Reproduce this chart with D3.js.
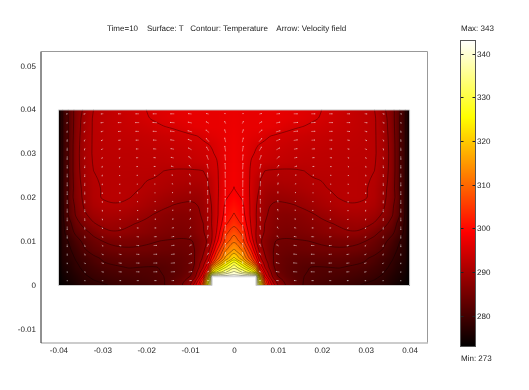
<!DOCTYPE html>
<html>
<head>
<meta charset="utf-8">
<script src="https://cdn.jsdelivr.net/npm/d3@7"></script>
<style>
  html, body { margin: 0; background: #fff; }
  #chart { position: relative; width: 529px; height: 390px; overflow: hidden; }
  #chart canvas, #chart svg { position: absolute; left: 0; top: 0; }
  text { font-family: "Liberation Sans", Arial, sans-serif; font-size: 8px; fill: #222; text-rendering: geometricPrecision; }
</style>
</head>
<body>
<div id="chart"></div>
<script>
// Tick labels
const xTicks = [-0.04, -0.03, -0.02, -0.01, 0, 0.01, 0.02, 0.03, 0.04];
const yTicks = [-0.01, 0, 0.01, 0.02, 0.03, 0.04, 0.05];
const barTicks = [280, 290, 300, 310, 320, 330, 340];

// Grid of the temperature readings, left half of the (symmetric) box, wall to centre
const gridX = [-0.04, -0.039, -0.038, -0.037, -0.036, -0.034, -0.032, -0.03, -0.028, -0.026, -0.024, -0.022, -0.02,
  -0.018, -0.016, -0.014, -0.012, -0.01, -0.009, -0.008, -0.007, -0.006, -0.005, -0.004, -0.002, 0];
const gridY = [0.04, 0.038, 0.036, 0.034, 0.032, 0.03, 0.028, 0.026, 0.024, 0.022, 0.02, 0.018, 0.016, 0.014, 0.012,
  0.01, 0.008, 0.006, 0.005, 0.004, 0.003, 0.002, 0.001, 0];
const tempRows = [
  [273,278.4,281,283.8,286,289,291.7,292.3,292.9,293.5,294,294.5,295,295.6,296,296.4,296.6,296.8,296.9,296.9,296.9,296.9,296.9,296.9,297,297.2],
  [273,278.4,281,283.8,286.3,289.8,292,292.6,293,293.4,293.8,294.3,294.8,295.3,295.8,296.2,296.5,296.8,296.9,296.9,296.9,296.9,296.9,296.9,297,297.3],
  [273,278.4,281,283.8,286.5,290,292,292.5,292.9,293.2,293.5,293.8,294.1,294.5,294.9,295.2,295.6,296.2,296.5,296.7,296.8,296.85,296.9,296.9,297,297.4],
  [273,278.4,281,283.9,286.7,290.2,292,292.4,292.7,292.9,293,293.2,293.4,293.6,293.9,294.1,294.4,294.7,294.9,295.1,295.5,295.9,296.2,296.4,297,297.6],
  [273,278.4,281,284,286.9,290.3,292,292.3,292.5,292.6,292.7,292.8,293,293.1,293.3,293.5,293.7,294,294.2,294.4,294.6,294.9,295.2,295.7,297,297.7],
  [273,278.4,281,284,287,290.4,292,292.2,292.3,292.4,292.4,292.5,292.6,292.7,292.8,293,293.2,293.5,293.7,293.9,294.1,294.4,294.8,295.3,297,297.8],
  [273,278.4,281,284,287,290.3,291.9,292.1,292.2,292.2,292.3,292.3,292.4,292.4,292.4,292.6,292.8,293,293.2,293.4,293.7,294,294.4,294.8,297,297.9],
  [273,278.4,281,284,287,290,291.7,291.9,292,292.1,292.1,292.1,292.1,292,291.7,291.5,291.4,291.4,291.45,291.5,291.7,293,294,294.5,297.1,298],
  [273,278.4,281,283.9,286.8,289.8,291.5,291.9,292,292,291.95,291.85,291.75,291.6,291.3,291.1,291,290.9,290.9,291,291.2,291.7,293,294.4,297.2,298.1],
  [273,278.3,281,283.8,286.6,289.4,291.3,291.8,292,292,291.9,291.8,291.5,291.2,290.8,290.4,290.1,289.9,289.9,290,290.4,291.4,292.5,294.3,297.3,298.35],
  [273,278.2,281.3,284.3,286.4,289.2,291.2,291.8,292,292,291.8,291.4,290.9,290.4,289.8,289.3,289,288.8,288.8,289,289.5,290.8,292.2,294.2,297.9,299.3],
  [273,278.1,281.2,283.5,285.8,288.8,290.6,291.3,291.5,291.5,291.2,290.7,290.1,289.4,288.8,288.2,287.9,287.8,288,288.4,289,290.3,291.9,294.1,298.8,300.6],
  [273,278,281.2,283.3,285.3,287.9,289.4,290.2,290.4,290.3,290,289.4,288.8,288.1,287.4,287,286.8,287,287.4,288,288.8,290.2,291.8,294,299.5,302],
  [273,277.7,279.9,281.8,283.9,286.2,288.1,289,289.2,289,288.6,288.2,287.7,287.2,286.8,286.5,286.3,286.5,287,287.6,288.3,290,291.9,294.3,301,304],
  [273,277.4,279.4,280.9,282.4,284.2,285.8,287.4,288.1,288.1,287.8,287.4,287,286.5,286.1,285.8,285.7,286,286.6,287.3,288,289.8,291.7,295,304,307],
  [273,276.9,278.1,279.2,280.5,282.6,284,285,285.5,285.7,285.7,285.5,285.3,285.1,284.9,284.8,284.7,284.8,285.2,286.2,287.3,288.7,292,297,306,311],
  [273,276.6,277.6,278.4,279.3,281.5,282.8,283.7,284.3,284.6,284.7,284.7,284.6,284.4,284.2,284.1,284.1,284.4,285,286,287.7,290,295,301,311,315.5],
  [273,276.2,277,277.7,278.5,279.8,281,281.9,282.4,282.8,283,283,283,282.9,282.9,283,283.3,284,285,286.7,289,292.5,300,306,316,323],
  [273,275.8,276.6,277.2,278.1,279.3,280.5,281.5,281.9,282.2,282.4,282.4,282.3,282.3,282.4,282.7,283.2,284,285,287.5,290.5,295,304,312,322,330],
  [273,275.4,276.2,276.8,277.8,278.9,279.8,280.7,281.2,281.5,281.8,281.7,281.6,281.6,281.9,282.4,283,284,285.3,288.2,292,298,314,320,328,334],
  [273,275,275.8,276.4,277.2,278.5,279.3,280,280.5,280.9,281.1,281.2,281.3,281.5,281.8,282.2,283,284.2,286,290,295,304,322,328,334,339],
  [273,274.6,275.4,276,276.6,278,278.8,279.4,279.9,280.3,280.6,280.8,281,281.3,281.7,282.3,283.2,285,287,292,298,316,343,343,343,343],
  [273,274.2,275,275.6,276.2,277.5,278.2,278.7,279.2,279.7,280,280.3,280.6,281,281.6,282.6,284,286.5,290,296,304,322,343,343,343,343],
  [273,273.6,274.2,274.8,275.6,277,277.5,278,278.5,279,279.3,279.7,280,280.6,281.5,283,284.5,288.3,293,298.3,308,326,343,343,343,343]
];

// Contour levels of the temperature
const levels = [278.3, 281.7, 285, 288.3, 291.7, 295, 298.3, 301.7, 305, 308.3, 311.7, 315, 318.3, 321.7, 325, 328.3, 331.7, 335, 338.3, 341.7];

// Velocity arrows, left half. Rows top to bottom, columns wall to centre
const arrowX = [-0.038, -0.034, -0.03, -0.026, -0.022, -0.018, -0.014, -0.01, -0.006, -0.002];
const arrowY = [0.039, 0.037, 0.035, 0.033, 0.031, 0.029, 0.027, 0.025, 0.023, 0.021, 0.019, 0.017, 0.015, 0.013, 0.011, 0.009, 0.007, 0.005, 0.003, 0.001];
const arrowU = [
  [-1,-1.5,-2,-2.5,-3,-3.5,-3.5,-3,-2,-0.5],
  [-0.5,-1.5,-2.5,-3,-3.5,-4,-4,-3.5,-2.5,-1],
  [-0.3,-1,-2,-2.5,-3,-3.5,-4,-4,-3,-1],
  [-0.2,-0.8,-1.5,-2,-2.5,-3,-3.5,-3.5,-2.5,-1],
  [-0.1,-0.5,-1,-1.5,-2,-2.5,-3,-3,-2,-0.8],
  [-0.1,-0.4,-0.8,-1,-1.5,-2,-2.5,-2.5,-1.5,-0.5],
  [0,-0.2,-0.5,-0.7,-1,-1.5,-2,-1.5,-1,-0.4],
  [0,-0.1,-0.3,-0.4,-0.6,-0.8,-1,-1,-0.5,-0.2],
  [0,-0.1,-0.1,-0.2,-0.2,-0.3,-0.4,-0.4,-0.2,-0.1],
  [0,0,0,0,0,0,0,0,0,0],
  [0,0,0.1,0.1,0.2,0.3,0.3,0.2,0.1,0],
  [0,0.1,0.2,0.3,0.5,0.6,0.6,0.4,0.2,0.1],
  [0,0.1,0.3,0.5,0.8,1,1,0.7,0.3,0.1],
  [0,0.2,0.5,0.8,1.2,1.5,1.5,1,0.5,0.2],
  [0,0.3,0.8,1.2,1.8,2.2,2.2,1.5,0.7,0.2],
  [0,0.5,1,1.8,2.3,2.8,2.8,2,1,0.3],
  [0,0.6,1.5,2.2,2.8,3.2,3.2,2.5,1.2,0.3],
  [0.1,0.8,1.8,2.5,3,3.5,3.5,3,1.5,0.4],
  [0.1,0.8,1.8,2.5,3,3.5,3.5,3,1.5,0.3],
  [0.1,0.5,1,1.5,1.5,2,2,2,1,0.1]
];
const arrowV = [
  [-0.3,-0.5,-0.2,0,0,0,0,0.3,0.5,0.5],
  [-1,-0.8,-0.3,0,0,0.2,0.3,0.8,1.5,2],
  [-1.5,-1.2,-0.6,-0.2,0.1,0.2,0.5,1.2,2.5,3],
  [-2,-1.5,-0.8,-0.3,0,0.2,0.6,1.5,3,4],
  [-2.5,-1.8,-1,-0.4,0,0.2,0.6,1.7,3.5,5],
  [-3,-2,-1,-0.5,-0.1,0.2,0.6,2,4,5.5],
  [-3,-2.2,-1.2,-0.5,-0.2,0.1,0.6,2,4.2,6],
  [-3.2,-2.3,-1.2,-0.5,-0.2,0.1,0.5,2,4.5,6],
  [-3.5,-2.5,-1.2,-0.5,-0.2,0,0.5,2,4.5,6.5],
  [-3.5,-2.5,-1.2,-0.6,-0.2,0,0.4,1.8,4.5,6.5],
  [-3.5,-2.5,-1.2,-0.6,-0.2,0,0.4,1.8,4.5,6.5],
  [-3.5,-2.5,-1.2,-0.6,-0.2,0,0.4,1.8,4.5,6.5],
  [-3.2,-2.3,-1.2,-0.6,-0.2,0,0.4,1.6,4,6],
  [-3,-2.2,-1.1,-0.6,-0.2,0,0.4,1.5,3.5,5.5],
  [-2.7,-2,-1,-0.5,-0.2,0.1,0.4,1.3,3,5],
  [-2.2,-1.7,-0.9,-0.5,-0.2,0.1,0.4,1.2,2.5,4],
  [-1.7,-1.4,-0.8,-0.4,-0.2,0.1,0.4,1,2,3],
  [-1.2,-1,-0.6,-0.3,-0.1,0.1,0.3,0.8,1.5,2],
  [-0.7,-0.6,-0.4,-0.2,-0.1,0.1,0.2,0.5,1,1],
  [-0.2,-0.2,-0.1,0,0,0,0.1,0.2,0.3,0]
];

// Box outline with the heater notch in the floor
const boxX = [-0.04, -0.04, 0.04, 0.04, 0.005, 0.005, -0.005, -0.005];
const boxY = [0, 0.04, 0.04, 0, 0, 0.002, 0.002, 0];

// "hot" colormap stops
const hotTemps = [273, 299.25, 325.5, 343];
const hotColors = ["#000000", "#ff0000", "#ffff00", "#ffffff"];

const margin = { top: 51.5, right: 101.5, bottom: 47.5, left: 40.5 };
const width = 529, height = 390;

const x = d3.scaleLinear().domain([-0.04408, 0.04408]).range([margin.left, width - margin.right]);
const y = d3.scaleLinear().domain([-0.0131, 0.0532]).range([height - margin.bottom, margin.top]);
const color = d3.scaleLinear().domain(hotTemps).range(hotColors);

// Whole grid: the right half mirrors the left
const fullX = gridX.concat(gridX.slice(0, -1).reverse().map(d => -d));
const fullRows = tempRows.map(r => r.concat(r.slice(0, -1).reverse()));
const nx = fullX.length, ny = gridY.length;

// Grid index <-> data coordinates (the grid is not uniform)
const xAtIndex = d3.scaleLinear().domain(d3.range(nx)).range(fullX);
const yAtIndex = d3.scaleLinear().domain(d3.range(ny)).range(gridY);
const indexAtX = d3.scaleLinear().domain(fullX).range(d3.range(nx)).clamp(true);
const indexAtY = d3.scaleLinear().domain(gridY.slice().reverse()).range(d3.range(ny).reverse()).clamp(true);

// Surface plot on a canvas below the svg
const chart = d3.select("#chart");
const canvas = chart.append("canvas").attr("width", width).attr("height", height);
const ctx = canvas.node().getContext("2d");
const image = ctx.createImageData(width, height);
for (let py = Math.ceil(y(0.04)); py < y(0); py++) {
  for (let px = Math.ceil(x(-0.04)); px < x(0.04); px++) {
    const fx = indexAtX(x.invert(px + 0.5)), fy = indexAtY(y.invert(py + 0.5));
    const i = Math.min(Math.floor(fx), nx - 2), j = Math.min(Math.floor(fy), ny - 2);
    const a = fx - i, b = fy - j;
    const t = (1 - a) * (1 - b) * fullRows[j][i] + a * (1 - b) * fullRows[j][i + 1]
      + (1 - a) * b * fullRows[j + 1][i] + a * b * fullRows[j + 1][i + 1];
    const c = d3.rgb(color(t));
    const k = (py * width + px) * 4;
    image.data[k] = c.r; image.data[k + 1] = c.g; image.data[k + 2] = c.b; image.data[k + 3] = 255;
  }
}
ctx.putImageData(image, 0, 0);

const svg = chart.append("svg").attr("width", width).attr("height", height);

const boxPath = d3.line().x(d => x(boxX[d])).y(d => y(boxY[d])).curve(d3.curveLinearClosed)(d3.range(boxX.length));
svg.append("clipPath").attr("id", "box").append("path").attr("d", boxPath);

// Heater notch stays white
svg.append("rect")
  .attr("x", x(-0.005)).attr("y", y(0.002))
  .attr("width", x(0.005) - x(-0.005)).attr("height", y(0) - y(0.002))
  .attr("fill", "#fff");

// Contours
const contours = d3.contours().size([nx, ny]).thresholds(levels)(fullRows.flat());
const ringLine = d3.line()
  .x(d => x(xAtIndex(d[0] - 0.5)))
  .y(d => y(yAtIndex(d[1] - 0.5)))
  .curve(d3.curveCatmullRom);
const contourGroup = svg.append("g").attr("clip-path", "url(#box)");
contours.forEach(c => {
  c.coordinates.forEach(poly => poly.forEach(ring => {
    contourGroup.append("path")
      .attr("d", ringLine(ring))
      .attr("fill", "none")
      .attr("stroke", "#000")
      .attr("stroke-opacity", 0.6)
      .attr("stroke-width", 0.6);
  }));
});

// Arrows
const arrows = [];
arrowY.forEach((ay, r) => arrowX.forEach((ax, c) => {
  arrows.push({ x: ax, y: ay, u: arrowU[r][c], v: arrowV[r][c] });
  arrows.push({ x: -ax, y: ay, u: -arrowU[r][c], v: arrowV[r][c] });
}));
svg.append("g").selectAll("path").data(arrows).join("path")
  .attr("d", d => {
    const x0 = x(d.x) - d.u / 2, y0 = y(d.y) + d.v / 2;
    const x1 = x(d.x) + d.u / 2, y1 = y(d.y) - d.v / 2;
    return `M${x0},${y0}L${x1},${y1}`;
  })
  .attr("stroke", "#fff")
  .attr("stroke-opacity", 0.4)
  .attr("stroke-width", 1)
  .attr("fill", "none");
svg.append("g").selectAll("rect").data(arrows).join("rect")
  .attr("x", d => x(d.x) + d.u / 2 - 0.5)
  .attr("y", d => y(d.y) - d.v / 2 - 0.5)
  .attr("width", 1).attr("height", 1)
  .attr("fill", "#fff").attr("fill-opacity", 0.6);

// Grey edge of the box
svg.append("path").attr("d", boxPath)
  .attr("transform", "translate(0,0.5)")
  .attr("fill", "none").attr("stroke", "#ccc").attr("stroke-width", 1);

// Axes
const xAxis = svg.append("g")
  .attr("transform", `translate(0,${height - margin.bottom})`)
  .call(d3.axisBottom(x).tickValues(xTicks).tickSize(0).tickPadding(5).tickFormat(String));
const yAxis = svg.append("g")
  .attr("transform", `translate(${margin.left},0)`)
  .call(d3.axisLeft(y).tickValues(yTicks).tickSize(0).tickPadding(4.5).tickFormat(String));
xAxis.select(".domain").attr("stroke", "#999");
yAxis.select(".domain").attr("stroke", "#222");
svg.append("path")
  .attr("d", `M${margin.left},${margin.top}H${width - margin.right}V${height - margin.bottom}`)
  .attr("fill", "none").attr("stroke", "#999");
svg.selectAll(".tick text").attr("fill", "#222").style("font-family", "'Liberation Sans', Arial, sans-serif").style("font-size", "8px");

// Title
svg.append("text")
  .attr("x", 107).attr("y", 31)
  .style("white-space", "pre")
  .text("Time=10    Surface: T   Contour: Temperature    Arrow: Velocity field");

// Colorbar, one row per pixel
const barX = 461, barW = 14;
const barY = d3.scaleLinear().domain([273, 343]).range([346.5, 40.5]);
svg.append("g").selectAll("rect").data(d3.range(41, 347)).join("rect")
  .attr("x", barX).attr("width", barW)
  .attr("y", d => d).attr("height", 1)
  .attr("shape-rendering", "crispEdges")
  .attr("fill", d => color(barY.invert(d + 0.5)));
svg.append("rect")
  .attr("x", barX - 0.5).attr("y", barY(343)).attr("width", barW + 1).attr("height", barY(273) - barY(343))
  .attr("fill", "none").attr("stroke", "#555");
const barTick = svg.append("g").selectAll("g").data(barTicks).join("g")
  .attr("transform", d => `translate(0,${Math.round(barY(d)) + 0.5})`);
barTick.append("path")
  .attr("d", `M${barX},0h2.5M${barX + barW - 2.5},0h2.5`)
  .attr("stroke", "#222");
barTick.append("text")
  .attr("x", barX + barW + 2).attr("dy", "0.32em")
  .text(d => d);
svg.append("text").attr("x", 461).attr("y", 31).text("Max: 343");
svg.append("text").attr("x", 461).attr("y", 361).text("Min: 273");
</script>
</body>
</html>
